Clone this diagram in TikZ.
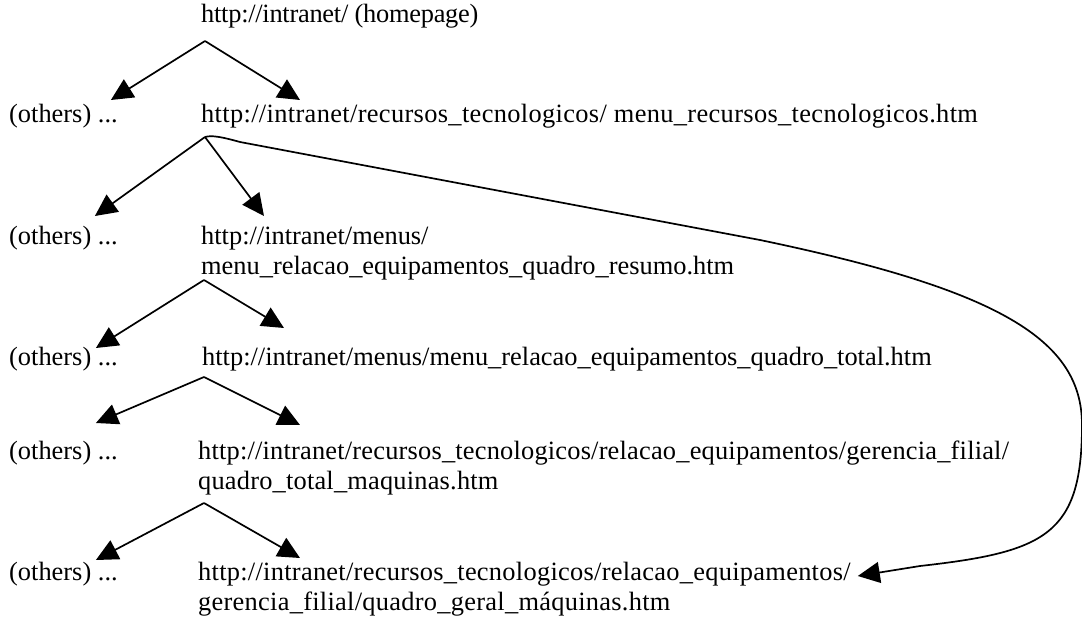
\documentclass[tikz,border=0pt]{standalone}
\usepackage{fontspec}
\setmainfont{Liberation Serif}
\usepackage{tikz}
\usetikzlibrary{arrows.meta, calc}

\newcommand{\pagefont}{\fontsize{26.4}{30}\selectfont}
\newcommand{\spread}[1]{\pagefont\addfontfeature{LetterSpace=#1}}

\tikzset{
  page/.style={anchor=north west, inner sep=0pt, align=left, font=\pagefont},
  link/.style={-{Triangle[length=22pt, width=21pt]}, line width=1.7pt}
}

\begin{document}
\begin{tikzpicture}[x=1pt, y=-1pt]
  \useasboundingbox (0,0) rectangle (1082,618);

  % Pages
  \node[page, font=\spread{-1}] (u1) at (201, 4) {http://intranet/ (homepage)};

  \node[page] (o2) at (9, 104) {(others) ...};
  \node[page, font=\spread{1.3}] (u2) at (201, 104) {http://intranet/recursos\_tecnologicos/ menu\_recursos\_tecnologicos.htm};

  \node[page] (o3) at (9, 226) {(others) ...};
  \node[page] (u3) at (201, 226) {http://intranet/menus/\\menu\_relacao\_equipamentos\_quadro\_resumo.htm};

  \node[page] (o4) at (9, 347) {(others) ...};
  \node[page] (u4) at (202, 347) {http://intranet/menus/menu\_relacao\_equipamentos\_quadro\_total.htm};

  \node[page] (o5) at (9, 441) {(others) ...};
  \node[page, font=\spread{0.75}] (u5) at (198, 441) {http://intranet/recursos\_tecnologicos/relacao\_equipamentos/gerencia\_filial/\\quadro\_total\_maquinas.htm};

  \node[page] (o6) at (9, 562) {(others) ...};
  \node[page, font=\spread{1.05}] (u6) at (198, 562) {http://intranet/recursos\_tecnologicos/relacao\_equipamentos/\\gerencia\_filial/quadro\_geral\_máquinas.htm};

  % Forks
  \coordinate (f1) at (205, 41);
  \coordinate (f2) at (205, 137);
  \coordinate (f3) at (204, 280);
  \coordinate (f4) at (204, 377);
  \coordinate (f5) at (204, 503);

  \draw[link] (f1) -- ($(o2.north east)+(-7,-4)$);
  \draw[link] (f1) -- ($(u2.north west)+(99,-4)$);

  \draw[link] (f2) -- ($(o3.north east)+(-23,-10)$);
  \draw[link] (f2) -- ($(u3.north west)+(63,-10)$);
  \draw[link] (f2) .. controls (212,135) and (222,137) .. (240,142) -- (760,240)
    .. controls (1000,290) and (1082,340) .. (1082,425)
    .. controls (1082,535) and (1045,552) .. (920,566) -- ($(u6.north east)+(7,14)$);

  \draw[link] (f3) -- ($(o4.north east)+(-22,1)$);
  \draw[link] (f3) -- ($(u4.north west)+(82,-19)$);

  \draw[link] (f4) -- ($(o5.north east)+(-22,-18)$);
  \draw[link] (f4) -- ($(u5.north west)+(102,-16)$);

  \draw[link] (f5) -- ($(o6.north east)+(-22,-2)$);
  \draw[link] (f5) -- ($(u6.north west)+(102,-4)$);
\end{tikzpicture}
\end{document}
